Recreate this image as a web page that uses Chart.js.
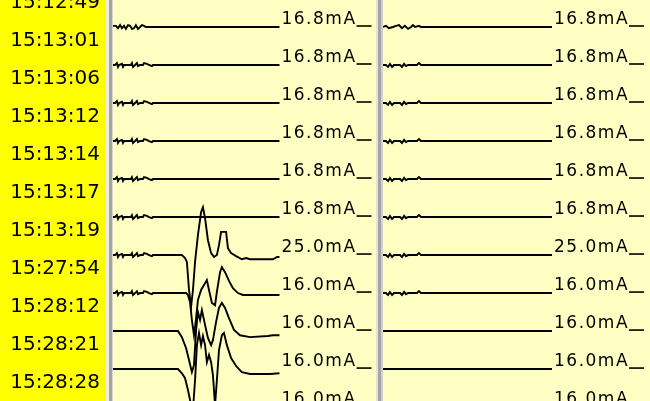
<!DOCTYPE html>
<html>
<head>
<meta charset="utf-8">
<script src="https://cdn.jsdelivr.net/npm/chart.js@4.4.1/dist/chart.umd.min.js"></script>
<style>
  html, body { margin: 0; padding: 0; background: #FFFFC4; overflow: hidden; }
  #wrap { position: relative; width: 650px; height: 401px; }
  #left { position: absolute; left: 0; top: 0; }
  #right { position: absolute; left: 383px; top: 0; }
</style>
</head>
<body>
<div id="wrap">
  <canvas id="left" width="383" height="401"></canvas>
  <canvas id="right" width="267" height="401"></canvas>
</div>
<script>
"use strict";

// time stamp of each sweep row (first one is cut off at the top)
var TIMES = ["15:12:49", "15:13:01", "15:13:06", "15:13:12", "15:13:14", "15:13:17",
             "15:13:19", "15:27:54", "15:28:12", "15:28:21", "15:28:28"];

// current read-out at the end of each trace (rows 0..10)
var CURRENTS = ["16.8mA", "16.8mA", "16.8mA", "16.8mA", "16.8mA", "16.8mA",
                "25.0mA", "16.0mA", "16.0mA", "16.0mA", "16.0mA"];

// trace samples: [time (% of sweep), deflection (mA)]
var SWEEP_END = 63.3;
var ROW_MA = 10;      // spacing between stacked traces
var Y_MAX = 7.1;
var Y_MIN = -98.4;

var burstTop = [[0, 0.3], [1.1, 0.3], [1.9, -0.3], [2.7, 0.5], [3.4, -0.3], [4.2, 0.3], [4.9, -0.5],
                [5.7, 0.5], [6.5, 0.3], [7.2, -0.5], [8.0, -0.3], [8.7, 0.5], [9.5, -0.5], [10.3, 0],
                [11.0, 0.5], [11.8, 0.3], [12.5, 0], [13.7, 0]];
var burstRow = [[0, 0], [0.8, 0], [1.5, 0.5], [1.9, -0.5], [2.3, 0], [3.4, 0.3], [3.8, -0.5], [4.2, 0],
                [6.8, 0], [7.2, 0.5], [7.6, -0.5], [8.4, 0], [9.1, 0.5], [9.5, -0.3], [10.3, 0],
                [11.4, 0], [11.8, 0.5], [12.9, 0.3], [13.7, 0], [14.8, -0.3], [15.2, 0]];

var event6 = [[26.2, 0], [27.4, -0.8], [28.1, -1.8], [28.9, -9.2], [29.7, -13.5], [30.4, -9.2],
              [31.2, -1.8], [32.3, 5.3], [33.5, 11.3], [34.2, 12.6], [35.0, 9.7], [36.1, 3.9],
              [37.3, 0.5], [38.4, -0.5], [39.5, 0], [40.3, 2.6], [41.1, 6.1], [43.0, 6.1], [43.7, 1.8],
              [44.9, 0.5], [46.8, -0.3], [49.0, -1.1], [50.6, -0.8], [52.1, -1.1], [60.8, -1.1],
              [62.4, -0.5], [63.3, -0.5]];
var event7 = [[27.8, 0], [28.5, -0.5], [29.3, -2.4], [30.0, -7.1], [30.8, -11.1], [31.6, -6.6],
              [32.3, -1.8], [33.5, 0.8], [34.6, 2.1], [35.7, 3.4], [36.5, 0.8], [37.6, -2.6],
              [38.8, -3.2], [39.5, 0.3], [40.7, 5.5], [41.4, 6.8], [42.6, 5.5], [44.1, 3.2],
              [45.6, 1.3], [47.5, 0], [49.4, -0.5], [63.3, -0.5]];
var event8 = [[24.7, 0], [26.2, -1.6], [27.8, -4.5], [28.9, -7.6], [30.0, -10.8], [30.8, -8.9],
              [31.6, 0.3], [32.3, 5.0], [33.1, 2.9], [33.8, 5.5], [35.0, 1.6], [36.1, -1.8],
              [37.3, -3.7], [38.0, -2.4], [39.2, 2.4], [40.3, 6.1], [41.4, 7.4], [42.6, 6.1],
              [44.1, 3.4], [46.0, 0.3], [48.3, -1.1], [52.1, -1.6], [58.9, -1.3], [60.8, -1.1],
              [63.3, -1.1]];
var event9 = [[24.7, 0], [26.2, -1.1], [27.4, -2.4], [28.5, -5.5], [29.7, -9.5], [30.4, -10.8],
              [31.2, -2.9], [31.9, 6.3], [32.7, 9.5], [33.5, 6.3], [34.2, 8.7], [35.0, 6.3],
              [35.7, 1.8], [36.5, 3.7], [37.3, 1.8], [38.0, -1.6], [38.8, -9.5], [39.5, -2.9],
              [40.3, 5.0], [41.4, 8.9], [42.2, 9.5], [43.3, 6.3], [44.9, 2.9], [46.8, 0.8],
              [49.0, -0.8], [52.1, -1.3], [59.7, -1.3], [63.3, -1.1]];
var event10 = [[0, 0], [63.3, -1.1]];

var burstTopB = [[0, 0], [1.1, 0.3], [2.2, -0.3], [3.7, 0], [4.9, 0.3], [6.0, 0.5], [7.1, -0.3],
                 [8.2, 0.3], [9.4, -0.5], [10.5, 0], [11.2, 0.5], [12.0, 0], [13.5, 0.3], [14.2, 0]];
var burstRowB = [[0, 0], [1.1, 0], [1.9, -0.5], [2.6, 0.3], [3.4, -0.5], [4.1, 0], [6.4, 0],
                 [7.1, -0.5], [7.9, 0.3], [8.6, -0.3], [9.4, 0], [12.7, 0], [13.5, 0.5], [14.2, 0]];

var PANEL = "#FFFFC4";
var STRIP = "#FFFF00";

function flatTo(arr) {
  return arr.concat([[SWEEP_END, 0]]);
}

var leftRows = [
  flatTo(burstTop), flatTo(burstRow), flatTo(burstRow), flatTo(burstRow), flatTo(burstRow),
  flatTo(burstRow), burstRow.concat(event6), burstRow.concat(event7),
  [[0, 0]].concat(event8), [[0, 0]].concat(event9), event10
];
var rightRows = [
  flatTo(burstTopB), flatTo(burstRowB), flatTo(burstRowB), flatTo(burstRowB), flatTo(burstRowB),
  flatTo(burstRowB), flatTo(burstRowB), flatTo(burstRowB),
  [[0, 0], [SWEEP_END, 0]], [[0, 0], [SWEEP_END, 0]], [[0, 0], [SWEEP_END, 0]]
];

function toDatasets(rows) {
  return rows.map(function(row, i) {
    return {
      data: row.map(function(p) { return { x: p[0], y: p[1] - ROW_MA * i }; }),
      borderColor: "#000",
      borderWidth: 1.9,
      pointRadius: 0,
      tension: 0
    };
  });
}

var panelBg = {
  id: "panelBg",
  beforeDraw: function(chart, args, opts) {
    var ctx = chart.ctx, a = chart.chartArea, h = chart.height;
    ctx.save();
    ctx.fillStyle = PANEL;
    ctx.fillRect(0, 0, chart.width, h);
    if (opts.strip) {
      ctx.fillStyle = STRIP;
      ctx.fillRect(0, 0, a.left - 7, h);
      ctx.fillStyle = "#EEEEE2";
      ctx.fillRect(a.left - 7, 0, 3, h);
      ctx.fillStyle = "#A4A4A4";
      ctx.fillRect(a.left - 4, 0, 3, h);
      ctx.fillStyle = "#D8D8C8";
      ctx.fillRect(a.left - 1, 0, 1, h);
      ctx.fillStyle = "#E4E4DC";
      ctx.fillRect(a.right, 0, 2, h);
      ctx.fillStyle = "#A4A4A4";
      ctx.fillRect(a.right + 2, 0, 3, h);
      ctx.fillStyle = "#D0D0C8";
      ctx.fillRect(a.right + 5, 0, 2, h);
    }
    ctx.restore();
  }
};

var currentTags = {
  id: "currentTags",
  afterDatasetsDraw: function(chart) {
    var ctx = chart.ctx, a = chart.chartArea, yScale = chart.scales.y;
    ctx.save();
    ctx.beginPath();
    ctx.rect(a.left, a.top, a.right - a.left, a.bottom - a.top);
    ctx.clip();
    ctx.font = '17px "DejaVu Sans"';
    ctx.letterSpacing = "1.5px";
    ctx.fillStyle = "#000";
    ctx.strokeStyle = "#000";
    ctx.lineWidth = 1.6;
    ctx.textBaseline = "alphabetic";
    chart.data.datasets.forEach(function(ds, i) {
      var pts = chart.getDatasetMeta(i).data;
      var end = pts[pts.length - 1];
      var base = yScale.getPixelForValue(-ROW_MA * i);
      var x0 = end.x + 2;
      ctx.fillText(CURRENTS[i], x0, base - 3);
      var w = ctx.measureText(CURRENTS[i]).width;
      ctx.beginPath();
      ctx.moveTo(x0 + w, base - 1);
      ctx.lineTo(x0 + w + 15, base - 1);
      ctx.stroke();
    });
    ctx.restore();
  }
};

function makeChart(id, rows, withTimes) {
  return new Chart(document.getElementById(id), {
    type: "line",
    data: { datasets: toDatasets(rows) },
    plugins: [panelBg, currentTags],
    options: {
      responsive: false,
      animation: false,
      layout: { padding: { left: 0, right: withTimes ? 7 : 0, top: 0, bottom: 0 } },
      plugins: {
        legend: { display: false },
        tooltip: { enabled: false },
        panelBg: { strip: withTimes }
      },
      scales: {
        x: { type: "linear", min: 0, max: 100, display: false },
        y: {
          type: "linear",
          min: Y_MIN,
          max: Y_MAX,
          display: withTimes,
          grid: { display: false, drawTicks: false },
          border: { display: false },
          afterBuildTicks: function(scale) {
            scale.ticks = TIMES.map(function(t, i) {
              return { value: -ROW_MA * (i - 1) - 3.7 };
            });
          },
          afterFit: function(scale) {
            if (!withTimes) return;
            scale.width = 113;
            scale.paddingTop = 0;
            scale.paddingBottom = 0;
          },
          ticks: {
            autoSkip: false,
            padding: 13,
            color: "#000",
            font: { family: "DejaVu Sans", size: 20 },
            callback: function(value, index) { return TIMES[index]; }
          }
        }
      }
    }
  });
}

makeChart("left", leftRows, true);
makeChart("right", rightRows, false);
</script>
</body>
</html>
